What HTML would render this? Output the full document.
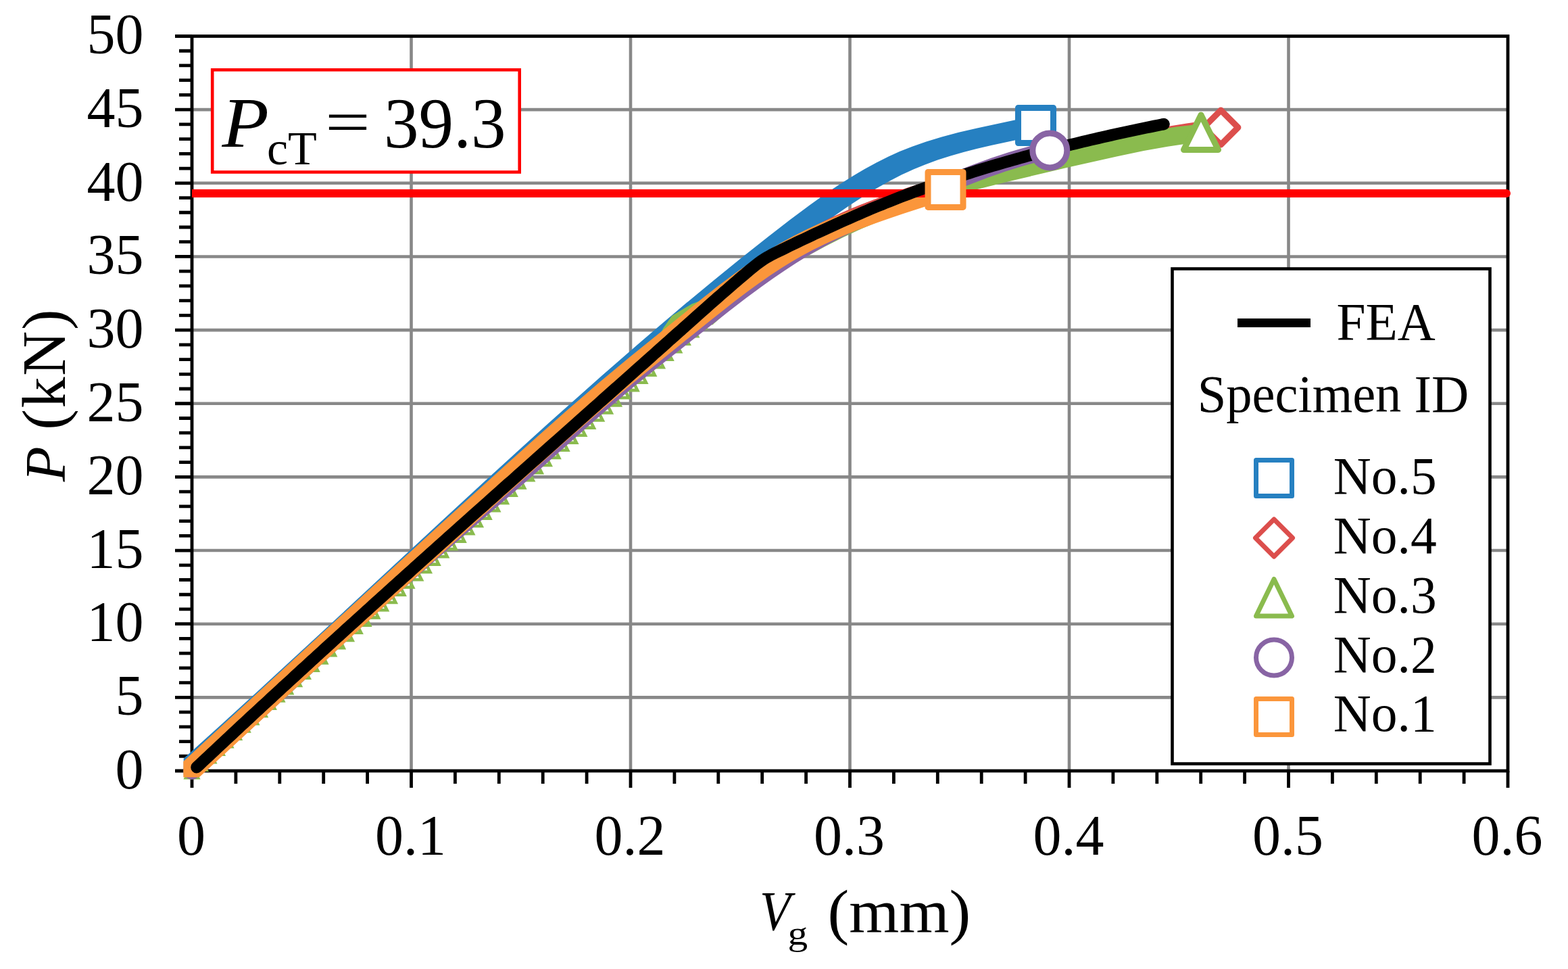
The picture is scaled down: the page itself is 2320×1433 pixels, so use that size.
<!DOCTYPE html><html><head><meta charset="utf-8"><title>P-Vg chart</title><style>html,body{margin:0;padding:0;background:#fff;}svg{display:block;}text{font-family:'Liberation Serif','Times New Roman',serif;fill:#000;}</style></head><body>
<svg width="2320" height="1433" viewBox="0 0 2320 1433">
<rect x="0" y="0" width="2320" height="1433" fill="#fff"/>
<path d="M284.0 1031.35H2231.0M284.0 922.70H2231.0M284.0 814.05H2231.0M284.0 705.40H2231.0M284.0 596.75H2231.0M284.0 488.10H2231.0M284.0 379.45H2231.0M284.0 270.80H2231.0M284.0 162.15H2231.0M608.50 53.5V1140.0M933.00 53.5V1140.0M1257.50 53.5V1140.0M1582.00 53.5V1140.0M1906.50 53.5V1140.0" stroke="#888888" stroke-width="4.6" fill="none"/>
<path d="M259 1140.00H284.0M265 1118.27H284.0M265 1096.54H284.0M265 1074.81H284.0M265 1053.08H284.0M259 1031.35H284.0M265 1009.62H284.0M265 987.89H284.0M265 966.16H284.0M265 944.43H284.0M259 922.70H284.0M265 900.97H284.0M265 879.24H284.0M265 857.51H284.0M265 835.78H284.0M259 814.05H284.0M265 792.32H284.0M265 770.59H284.0M265 748.86H284.0M265 727.13H284.0M259 705.40H284.0M265 683.67H284.0M265 661.94H284.0M265 640.21H284.0M265 618.48H284.0M259 596.75H284.0M265 575.02H284.0M265 553.29H284.0M265 531.56H284.0M265 509.83H284.0M259 488.10H284.0M265 466.37H284.0M265 444.64H284.0M265 422.91H284.0M265 401.18H284.0M259 379.45H284.0M265 357.72H284.0M265 335.99H284.0M265 314.26H284.0M265 292.53H284.0M259 270.80H284.0M265 249.07H284.0M265 227.34H284.0M265 205.61H284.0M265 183.88H284.0M259 162.15H284.0M265 140.42H284.0M265 118.69H284.0M265 96.96H284.0M265 75.23H284.0M259 53.50H284.0M284.00 1140.0V1165M348.90 1140.0V1159M413.80 1140.0V1159M478.70 1140.0V1159M543.60 1140.0V1159M608.50 1140.0V1165M673.40 1140.0V1159M738.30 1140.0V1159M803.20 1140.0V1159M868.10 1140.0V1159M933.00 1140.0V1165M997.90 1140.0V1159M1062.80 1140.0V1159M1127.70 1140.0V1159M1192.60 1140.0V1159M1257.50 1140.0V1165M1322.40 1140.0V1159M1387.30 1140.0V1159M1452.20 1140.0V1159M1517.10 1140.0V1159M1582.00 1140.0V1165M1646.90 1140.0V1159M1711.80 1140.0V1159M1776.70 1140.0V1159M1841.60 1140.0V1159M1906.50 1140.0V1165M1971.40 1140.0V1159M2036.30 1140.0V1159M2101.20 1140.0V1159M2166.10 1140.0V1159M2231.00 1140.0V1165" stroke="#000" stroke-width="4.8" fill="none"/>
<rect x="284.0" y="53.50" width="1947.0" height="1086.50" fill="none" stroke="#000" stroke-width="4.8"/>
<path d="M390.2,1014.1 328.2,1070.8 271.7,1121.7 271.7,1146.3 296.3,1146.3 361.6,1087.3 435.4,1019.8 668.7,803.7 746.6,731.8 817.6,667.2 883.1,608.5 926.6,570.1 967.3,534.6 1006.8,500.8 1045.0,468.6 1082.0,438.0 1119.3,407.8 1155.3,379.2 1188.5,353.4 1214.0,334.2 1236.7,317.8 1258.1,303.1 1278.2,290.0 1297.0,278.6 1316.1,267.8 1333.9,258.6 1352.0,250.2 1368.7,243.4 1387.4,236.5 1406.5,230.4 1425.7,224.9 1445.0,219.9 1466.5,214.9 1544.8,198.1 1544.8,173.5 1520.2,173.5 1445.8,189.4 1418.5,195.8 1393.4,202.4 1370.4,209.4 1349.7,216.7 1331.1,224.1 1314.7,231.4 1296.8,240.4 1279.3,250.0 1260.4,261.2 1240.2,274.0 1218.7,288.6 1197.5,303.7 1168.6,325.2 1135.4,350.9 1096.2,381.9 1055.9,414.7 1015.8,447.8 976.1,481.4 933.7,517.9 890.0,556.0 810.8,626.5 722.0,707.2 648.5,775.0 471.1,939.6Z" fill="#2680c1"/>
<path d="M408.4,1013.7 343.4,1073.1 284.0,1126.7 271.4,1139.3 284.0,1151.9 343.4,1098.3 408.4,1038.9 627.0,836.4 709.4,760.6 791.0,686.8 829.9,652.3 866.0,620.7 913.0,580.2 958.9,541.6 1002.1,506.1 1044.3,472.4 1085.4,440.5 1117.4,416.5 1146.8,395.8 1160.1,386.9 1173.5,378.3 1195.8,364.9 1216.9,353.5 1238.4,343.0 1262.2,332.5 1290.0,321.4 1320.1,310.4 1352.3,299.6 1384.8,289.6 1407.9,283.0 1433.0,276.2 1460.1,269.3 1487.3,262.7 1545.8,249.5 1637.8,230.0 1692.6,218.7 1733.9,211.1 1771.5,205.3 1789.3,202.9 1806.4,201.0 1819.0,188.4 1806.4,175.8 1781.4,178.7 1755.7,182.4 1733.9,185.9 1710.3,190.2 1684.8,195.1 1653.4,201.5 1538.0,226.0 1500.9,234.3 1465.9,242.7 1421.4,254.1 1381.0,265.6 1342.8,277.5 1323.9,283.9 1305.0,290.6 1273.3,302.7 1258.5,308.8 1243.9,315.3 1229.4,322.1 1216.9,328.3 1202.8,335.8 1190.6,342.7 1166.8,357.3 1140.2,375.1 1110.9,396.1 1077.4,421.4 1034.9,454.6 991.3,489.7 945.0,527.9 897.8,568.0 856.9,603.4 813.4,641.7 768.7,681.7 719.7,725.9 631.4,807.1Z" fill="#dc4e4c"/>
<path d="M1132.6,384.1 1110.2,399.7 1110.0,399.4 1080.0,421.4 1049.9,439.8 1023.5,449.5 994.2,467.1 981.5,485.0 968.9,510.2 984.5,510.2 976.0,527.3 972.5,520.3 963.3,538.7 959.8,531.7 950.6,550.1 947.0,542.9 937.8,561.4 934.2,554.2 925.0,572.6 921.4,565.3 912.1,583.8 908.5,576.5 899.3,594.9 895.6,587.6 886.4,606.0 882.7,598.6 873.5,617.1 869.8,609.7 860.6,628.1 856.9,620.8 847.6,639.2 844.0,631.8 834.7,650.2 831.1,642.9 821.9,661.3 818.2,654.0 809.0,672.4 805.4,665.1 796.2,683.4 792.5,676.2 783.4,694.6 779.8,687.4 770.6,705.8 767.0,698.6 757.8,717.0 754.3,709.9 745.1,728.2 741.6,721.1 732.4,739.5 728.9,732.4 719.7,750.8 716.2,743.7 707.0,762.1 703.5,755.1 694.4,773.4 690.9,766.4 681.7,784.7 678.2,777.7 669.0,796.1 665.5,789.1 656.4,807.4 652.8,800.4 643.7,818.7 640.2,811.7 631.0,830.1 627.5,823.0 618.3,841.4 614.8,834.3 605.6,852.7 602.0,845.6 592.8,864.0 589.3,856.9 580.1,875.3 576.5,868.1 567.3,886.5 563.7,879.4 554.5,897.8 550.9,890.5 541.7,909.0 538.1,901.7 528.9,920.1 525.3,912.9 516.1,931.3 512.5,924.1 503.3,942.5 499.6,935.2 490.4,953.6 486.8,946.4 477.6,964.8 474.0,957.5 464.8,975.9 461.2,968.7 452.0,987.1 448.4,979.9 439.2,998.3 435.6,991.1 426.4,1009.4 422.8,1002.3 413.6,1020.6 410.0,1013.5 400.9,1031.8 397.3,1024.7 388.1,1043.1 384.6,1036.0 375.4,1054.3 371.9,1047.3 362.7,1065.6 359.2,1058.6 350.1,1076.9 346.6,1069.9 337.5,1088.2 334.0,1081.3 324.9,1099.6 321.4,1092.7 312.3,1111.0 308.9,1104.2 299.8,1122.4 296.4,1115.7 287.3,1133.9 284.0,1127.2 271.4,1152.4 296.6,1152.4 290.8,1140.9 309.0,1140.9 303.3,1129.4 321.5,1129.4 315.8,1117.9 334.0,1117.9 328.3,1106.5 346.6,1106.5 340.9,1095.1 359.2,1095.1 353.5,1083.8 371.8,1083.8 366.2,1072.5 384.5,1072.5 378.8,1061.2 397.2,1061.2 391.6,1049.9 409.9,1049.9 404.3,1038.7 422.6,1038.7 417.0,1027.5 435.4,1027.5 429.8,1016.3 448.2,1016.3 442.6,1005.1 461.0,1005.1 455.4,993.9 473.8,993.9 468.2,982.7 486.6,982.7 481.0,971.6 499.4,971.6 493.8,960.4 512.2,960.4 506.7,949.3 525.1,949.3 519.5,938.1 537.9,938.1 532.3,926.9 550.7,926.9 545.1,915.7 563.5,915.7 557.9,904.6 576.3,904.6 570.7,893.3 589.1,893.3 583.5,882.1 601.9,882.1 596.2,870.8 614.6,870.8 609.0,859.5 627.4,859.5 621.7,848.2 640.1,848.2 634.4,836.9 652.8,836.9 647.1,825.6 665.4,825.6 659.8,814.3 678.1,814.3 672.5,802.9 690.8,802.9 685.1,791.6 703.5,791.6 697.8,780.3 716.1,780.3 710.5,768.9 728.8,768.9 723.1,757.6 741.5,757.6 735.8,746.3 754.2,746.3 748.5,735.1 766.9,735.1 761.3,723.8 779.6,723.8 774.0,712.6 792.4,712.6 786.8,701.4 805.1,701.4 799.6,690.3 818.0,690.3 812.4,679.2 830.8,679.2 825.3,668.1 843.7,668.1 838.1,657.0 856.6,657.0 851.0,646.0 869.5,646.0 863.9,634.9 882.4,634.9 876.8,623.8 895.3,623.8 889.8,612.8 908.2,612.8 902.6,601.7 921.1,601.7 915.5,590.5 934.0,590.5 928.4,579.4 946.8,579.4 941.2,568.1 959.6,568.1 954.0,556.9 972.4,556.9 966.7,545.5 985.1,545.5 979.4,534.1 997.8,534.1 992.0,522.6 1010.4,522.6 1004.6,511.1 1022.9,511.1 1017.1,499.4 1035.4,499.4 1029.5,487.7 1047.7,487.7 1044.0,480.3 1055.5,480.3 1055.0,479.3 1055.5,479.3 1073.5,463.5 1090.5,449.5 1106.2,437.2 1122.3,425.3 1136.9,414.9 1151.9,404.9 1168.7,394.1 1194.5,378.8 1220.8,364.4 1247.5,350.9 1276.6,337.5 1306.1,325.2 1336.0,313.8 1366.2,303.3 1398.6,293.2 1417.9,287.6 1439.1,281.8 1487.5,269.5 1577.0,248.3 1653.1,231.2 1692.3,223.1 1727.7,216.7 1759.4,212.1 1775.3,210.2 1789.6,208.8 1777.0,183.6 1758.7,185.4 1740.8,187.6 1715.1,191.5 1687.6,196.4 1658.2,202.2 1621.0,210.3 1560.6,224.0 1488.5,241.0 1447.8,251.0 1413.0,260.2 1389.9,266.8 1368.8,273.2 1347.9,280.0 1329.0,286.5 1310.3,293.4 1291.6,300.7 1273.2,308.4 1254.9,316.4 1236.8,324.8 1218.8,333.7 1201.1,343.0 1183.6,352.6 1166.4,362.7 1149.3,373.2ZM988.6,515.8 985.8,510.2 991.4,510.2ZM1000.0,501.9 1006.8,492.3 1007.2,492.1 1001.1,504.2ZM1012.0,489.2 1016.7,486.4 1013.6,492.5ZM1026.0,480.8 1026.0,480.8 1026.0,480.8ZM341.4,1090.5 346.6,1080.2 347.5,1082.0 346.6,1083.8 348.4,1083.8 351.8,1090.5ZM448.4,990.2 449.4,992.2 448.6,993.9 450.2,993.9 453.5,1000.5 443.2,1000.5ZM500.7,947.6 499.9,949.3 501.5,949.3 504.8,955.8 494.5,955.8 499.6,945.5ZM527.2,926.9 530.4,933.5 520.1,933.5 525.3,923.2 526.3,925.3 525.5,926.9ZM538.3,915.7 540.0,915.7 543.3,922.3 532.9,922.3 538.1,912.0 539.1,914.1ZM517.6,944.7 507.3,944.7 512.5,934.4 513.5,936.5 512.7,938.1 514.3,938.1ZM474.2,971.6 475.9,971.6 479.1,978.1 468.8,978.1 474.0,967.8 475.0,969.9ZM492.0,967.0 481.6,967.0 486.8,956.7 487.9,958.8 487.0,960.4 488.7,960.4ZM466.3,989.3 456.0,989.3 461.2,979.0 462.2,981.1 461.4,982.7 463.0,982.7ZM398.3,1037.0 397.4,1038.7 399.1,1038.7 402.5,1045.3 392.1,1045.3 397.3,1035.0ZM423.0,1016.3 424.7,1016.3 428.0,1022.9 417.6,1022.9 422.8,1012.5 423.8,1014.6ZM440.7,1011.7 430.4,1011.7 435.6,1001.4 436.6,1003.4 435.8,1005.1 437.4,1005.1ZM415.2,1034.1 404.9,1034.1 410.0,1023.8 411.0,1025.8 410.2,1027.5 411.9,1027.5ZM372.0,1061.2 373.7,1061.2 377.0,1067.9 366.7,1067.9 371.9,1057.5 372.8,1059.4ZM389.7,1056.6 379.4,1056.6 384.6,1046.3 385.6,1048.2 384.7,1049.9 386.4,1049.9ZM364.4,1079.2 354.1,1079.2 359.2,1068.9 360.2,1070.7 359.3,1072.5 361.0,1072.5ZM309.7,1116.1 308.8,1117.9 310.6,1117.9 314.1,1124.8 303.8,1124.8 308.9,1114.5ZM335.8,1095.1 339.2,1101.9 328.8,1101.9 334.0,1091.6 334.9,1093.4 334.0,1095.1ZM326.6,1113.3 316.3,1113.3 321.4,1103.0 322.3,1104.7 321.4,1106.5 323.2,1106.5ZM283.8,1140.9 285.7,1140.9 289.2,1147.8 278.8,1147.8 284.0,1137.5 284.8,1139.0ZM301.6,1136.3 291.3,1136.3 296.4,1126.0 297.2,1127.6 296.3,1129.4 298.1,1129.4ZM696.0,787.0 685.7,787.0 690.9,776.7 691.8,778.5 690.9,780.3 692.6,780.3ZM793.6,688.6 792.8,690.3 794.4,690.3 797.7,696.8 787.4,696.8 792.5,686.5ZM807.3,679.2 810.5,685.7 800.2,685.7 805.4,675.4 806.4,677.5 805.6,679.2ZM742.5,733.3 741.7,735.1 743.4,735.1 746.7,741.7 736.4,741.7 741.6,731.4ZM767.2,712.6 768.9,712.6 772.2,719.2 761.9,719.2 767.0,708.9 768.0,710.9ZM784.9,708.0 774.6,708.0 779.8,697.7 780.8,699.7 779.9,701.4 781.6,701.4ZM759.4,730.5 749.1,730.5 754.3,720.1 755.3,722.1 754.4,723.8 756.1,723.8ZM716.3,757.6 718.0,757.6 721.4,764.3 711.0,764.3 716.2,754.0 717.1,755.9ZM734.0,753.0 723.7,753.0 728.9,742.7 729.8,744.6 729.0,746.3 730.7,746.3ZM708.7,775.7 698.4,775.7 703.5,765.3 704.5,767.2 703.6,768.9 705.3,768.9ZM602.0,855.9 603.0,857.9 602.2,859.5 603.8,859.5 607.2,866.2 596.9,866.2ZM653.8,812.5 652.9,814.3 654.6,814.3 658.0,821.0 647.7,821.0 652.8,810.7ZM680.0,791.6 683.3,798.3 673.0,798.3 678.2,788.0 679.1,789.9 678.3,791.6ZM670.7,809.7 660.4,809.7 665.5,799.3 666.5,801.2 665.6,802.9 667.3,802.9ZM627.6,836.9 629.3,836.9 632.6,843.6 622.3,843.6 627.5,833.3 628.4,835.2ZM645.3,832.3 635.0,832.3 640.2,822.0 641.1,823.9 640.2,825.6 642.0,825.6ZM619.9,854.9 609.6,854.9 614.8,844.6 615.7,846.6 614.9,848.2 616.6,848.2ZM551.9,902.9 551.1,904.6 552.8,904.6 556.1,911.1 545.8,911.1 550.9,900.8ZM576.7,882.1 578.3,882.1 581.7,888.7 571.3,888.7 576.5,878.4 577.5,880.4ZM594.4,877.5 584.1,877.5 589.3,867.2 590.3,869.2 589.4,870.8 591.1,870.8ZM568.9,900.0 558.6,900.0 563.7,889.6 564.7,891.7 563.9,893.3 565.6,893.3ZM1005.1,506.5 1010.3,496.2 1011.0,497.7 1010.2,499.4 1011.9,499.4 1015.5,506.5ZM1030.0,483.1 1031.4,480.3 1038.9,480.3 1040.3,483.1ZM1027.9,494.8 1017.6,494.8 1022.8,484.5 1023.4,485.9 1022.5,487.7 1024.3,487.7ZM908.5,586.7 909.6,588.9 908.8,590.5 910.4,590.5 913.6,597.1 903.3,597.1ZM960.7,543.9 959.9,545.5 961.6,545.5 964.9,552.3 954.6,552.3 959.8,541.9ZM985.2,522.6 986.9,522.6 990.3,529.5 980.0,529.5 985.2,519.2 986.0,520.9ZM1002.9,518.0 992.6,518.0 997.8,507.7 998.6,509.3 997.7,511.1 999.4,511.1ZM977.7,540.9 967.3,540.9 972.5,530.6 973.4,532.4 972.6,534.1 974.3,534.1ZM934.4,568.1 936.1,568.1 939.4,574.8 929.0,574.8 934.2,564.4 935.2,566.5ZM952.2,563.5 941.9,563.5 947.0,553.2 948.0,555.2 947.2,556.9 948.8,556.9ZM926.5,585.9 916.2,585.9 921.4,575.6 922.4,577.7 921.6,579.4 923.2,579.4ZM858.0,633.3 857.2,634.9 858.8,634.9 862.0,641.4 851.7,641.4 856.9,631.0ZM883.0,612.8 884.6,612.8 887.8,619.2 877.5,619.2 882.7,608.9 883.8,611.1ZM900.8,608.2 890.4,608.2 895.6,597.8 896.7,600.0 895.9,601.7 897.5,601.7ZM874.9,630.3 864.6,630.3 869.8,620.0 870.9,622.2 870.1,623.8 871.7,623.8ZM831.4,657.0 833.0,657.0 836.2,663.5 825.9,663.5 831.1,653.2 832.2,655.4ZM849.1,652.4 838.8,652.4 844.0,642.1 845.1,644.3 844.3,646.0 845.9,646.0ZM823.4,674.6 813.0,674.6 818.2,664.2 819.3,666.4 818.5,668.1 820.1,668.1Z" fill="#8abb4e"/>
<path d="M402.1,1015.1 331.5,1080.2 274.9,1131.0 273.4,1132.9 272.2,1135.1 271.4,1137.5 271.2,1140.0 271.4,1142.5 272.2,1144.9 273.4,1147.1 274.9,1149.1 276.9,1150.7 279.1,1151.8 281.5,1152.6 284.0,1152.8 287.7,1152.3 290.0,1151.3 292.1,1149.9 327.9,1117.9 368.8,1080.7 525.8,935.3 592.9,874.2 651.3,822.6 785.7,705.8 873.7,627.3 902.3,602.2 935.7,573.6 968.3,547.2 1078.3,460.5 1103.6,441.0 1126.7,423.9 1144.6,411.2 1161.2,400.0 1177.9,389.1 1193.2,379.6 1209.4,370.2 1226.9,360.5 1242.9,352.2 1259.0,344.3 1283.4,333.3 1311.0,321.7 1372.5,297.6 1430.1,274.7 1461.9,262.6 1487.1,253.8 1511.9,246.0 1532.6,240.3 1543.5,237.7 1555.8,235.1 1558.2,234.4 1561.4,232.5 1563.2,230.7 1564.6,228.6 1565.5,226.3 1566.1,222.6 1565.9,220.1 1565.1,217.7 1563.9,215.5 1561.4,212.7 1558.2,210.8 1554.6,209.8 1552.0,209.8 1538.5,212.6 1523.7,216.2 1508.3,220.4 1493.0,225.0 1466.4,233.8 1437.1,244.6 1304.9,296.6 1280.9,306.5 1258.9,316.1 1237.9,326.1 1216.6,337.0 1195.6,348.6 1173.9,361.5 1153.6,374.3 1133.7,387.6 1115.7,400.3 1097.0,414.0 1077.8,428.5 1055.7,445.6 942.7,534.9 921.0,552.6 898.1,571.9 863.5,602.2 796.4,662.2 766.4,688.7 638.1,800.1 585.6,846.4 552.0,876.7 515.1,910.5Z" fill="#8864a4"/>
<path d="M549.0,869.6 271.3,1126.0 271.3,1149.4 294.7,1149.4 378.6,1072.2 566.5,898.4 647.5,823.9 745.1,735.0 831.4,657.6 888.5,607.4 914.3,585.3 937.3,566.1 966.7,542.0 1046.1,477.9 1085.2,446.9 1104.3,432.4 1122.1,419.4 1138.5,408.0 1155.2,397.0 1170.5,387.6 1186.1,378.6 1201.9,370.1 1219.8,361.2 1236.2,353.7 1254.5,345.8 1273.1,338.4 1293.7,330.7 1314.4,323.4 1337.2,315.7 1410.7,292.1 1410.7,268.7 1387.3,268.7 1325.2,288.6 1289.1,300.6 1257.2,312.1 1227.4,324.0 1209.1,332.0 1191.0,340.5 1173.2,349.5 1155.7,359.1 1140.2,368.3 1123.4,379.0 1105.2,391.4 1087.4,404.2 1065.0,421.0 1039.8,440.8 930.9,528.7 886.4,565.8 835.0,610.3 797.5,643.5 751.4,684.8 653.6,773.5Z" fill="#fb963b"/>
<path d="M290.0 286.0H2229" stroke="#ff0000" stroke-width="12" stroke-linecap="round" fill="none"/>
<path d="M284.0 286.0H292.0" stroke="#ff0000" stroke-width="12" fill="none"/>
<path d="M291.0 1134.7 L295.4 1130.6 L299.7 1126.5 L304.1 1122.4 L308.5 1118.3 L312.9 1114.2 L317.3 1110.1 L321.6 1106.0 L326.0 1101.9 L330.4 1097.8 L334.8 1093.7 L339.2 1089.6 L343.6 1085.5 L348.0 1081.4 L352.3 1077.3 L356.7 1073.2 L361.1 1069.2 L365.5 1065.1 L369.9 1061.0 L374.3 1056.9 L378.7 1052.9 L383.1 1048.8 L387.5 1044.7 L392.0 1040.6 L396.4 1036.6 L400.8 1032.5 L405.2 1028.4 L409.6 1024.4 L414.0 1020.3 L418.4 1016.2 L422.8 1012.2 L427.3 1008.1 L431.7 1004.1 L436.1 1000.0 L440.5 996.0 L444.9 991.9 L449.4 987.9 L453.8 983.8 L458.2 979.8 L462.6 975.7 L467.1 971.7 L471.5 967.6 L475.9 963.6 L480.4 959.5 L484.8 955.5 L489.2 951.5 L493.7 947.4 L498.1 943.4 L502.6 939.4 L507.0 935.3 L511.4 931.3 L515.9 927.3 L520.3 923.2 L524.8 919.2 L529.2 915.2 L533.7 911.1 L538.1 907.1 L542.6 903.1 L547.0 899.1 L551.5 895.0 L555.9 891.0 L560.4 887.0 L564.8 883.0 L569.3 879.0 L573.7 875.0 L578.2 870.9 L582.7 866.9 L587.1 862.9 L591.6 858.9 L596.0 854.9 L600.5 850.9 L605.0 846.9 L609.4 842.9 L613.9 838.8 L618.4 834.8 L622.8 830.8 L627.3 826.8 L631.8 822.8 L636.2 818.8 L640.7 814.8 L645.2 810.8 L649.6 806.8 L654.1 802.8 L658.6 798.8 L663.0 794.8 L667.5 790.8 L672.0 786.8 L676.5 782.8 L680.9 778.8 L685.4 774.8 L689.9 770.8 L694.4 766.8 L698.8 762.8 L703.3 758.8 L707.8 754.8 L712.3 750.9 L716.8 746.9 L721.2 742.9 L725.7 738.9 L730.2 734.9 L734.7 730.9 L739.1 726.9 L743.6 722.9 L748.1 718.9 L752.6 714.9 L757.1 711.0 L761.6 707.0 L766.0 703.0 L770.5 699.0 L775.0 695.0 L779.5 691.0 L784.0 687.0 L788.5 683.0 L792.9 679.1 L797.4 675.1 L801.9 671.1 L806.4 667.1 L810.9 663.1 L815.4 659.1 L819.9 655.1 L824.3 651.2 L828.8 647.2 L833.3 643.2 L837.8 639.2 L842.3 635.2 L846.8 631.2 L851.3 627.2 L855.7 623.3 L860.2 619.3 L864.7 615.3 L869.2 611.3 L873.7 607.3 L878.2 603.3 L882.7 599.4 L887.1 595.4 L891.6 591.4 L896.1 587.4 L900.6 583.4 L905.1 579.4 L909.6 575.4 L914.0 571.5 L918.5 567.5 L923.0 563.5 L927.5 559.5 L932.0 555.5 L936.5 551.5 L940.9 547.5 L945.4 543.5 L949.9 539.6 L954.4 535.6 L958.9 531.6 L963.4 527.6 L967.8 523.6 L972.3 519.6 L976.8 515.6 L981.3 511.6 L985.8 507.6 L990.2 503.6 L994.7 499.6 L999.2 495.6 L1003.7 491.7 L1008.2 487.7 L1012.6 483.7 L1017.1 479.7 L1021.6 475.7 L1026.1 471.7 L1030.5 467.7 L1035.0 463.7 L1039.5 459.7 L1044.0 455.8 L1048.5 451.8 L1053.0 447.8 L1057.5 443.9 L1062.0 439.9 L1066.5 436.0 L1071.0 432.0 L1075.6 428.1 L1080.1 424.2 L1084.6 420.2 L1089.2 416.3 L1093.7 412.4 L1098.3 408.5 L1102.9 404.7 L1107.4 400.8 L1112.0 397.0 L1116.7 393.2 L1121.3 389.6 L1126.1 386.1 L1131.1 382.8 L1136.1 379.8 L1141.3 376.9 L1146.7 374.2 L1152.0 371.6 L1157.4 369.0 L1162.8 366.3 L1168.2 363.7 L1173.6 361.1 L1179.0 358.5 L1184.4 355.9 L1189.9 353.4 L1195.3 350.8 L1200.7 348.3 L1206.1 345.7 L1211.6 343.2 L1217.0 340.7 L1222.5 338.2 L1227.9 335.7 L1233.4 333.2 L1238.8 330.7 L1244.3 328.3 L1249.8 325.8 L1255.3 323.4 L1260.8 321.0 L1266.3 318.6 L1271.8 316.2 L1277.3 313.8 L1282.8 311.5 L1288.3 309.1 L1293.8 306.8 L1299.4 304.5 L1304.9 302.3 L1310.5 300.0 L1316.1 297.8 L1321.6 295.6 L1327.2 293.4 L1332.8 291.2 L1338.4 289.1 L1344.0 287.0 L1349.6 284.9 L1355.3 282.8 L1360.9 280.8 L1366.5 278.7 L1372.2 276.7 L1377.8 274.7 L1383.5 272.7 L1389.2 270.8 L1394.8 268.8 L1400.5 266.9 L1406.2 265.0 L1411.9 263.1 L1417.6 261.3 L1423.3 259.4 L1429.0 257.6 L1434.7 255.8 L1440.5 254.0 L1446.2 252.2 L1451.9 250.4 L1457.6 248.7 L1463.4 246.9 L1469.1 245.2 L1474.9 243.5 L1480.6 241.8 L1486.4 240.1 L1492.2 238.5 L1497.9 236.8 L1503.7 235.2 L1509.5 233.6 L1515.2 232.0 L1521.0 230.4 L1526.8 228.8 L1532.6 227.2 L1538.4 225.7 L1544.2 224.2 L1550.0 222.6 L1555.8 221.1 L1561.6 219.6 L1567.4 218.2 L1573.3 216.7 L1579.1 215.2 L1584.9 213.8 L1590.7 212.4 L1596.6 211.0 L1602.4 209.6 L1608.2 208.2 L1614.1 206.8 L1619.9 205.4 L1625.7 204.1 L1631.6 202.8 L1637.4 201.4 L1643.3 200.1 L1649.2 198.8 L1655.0 197.5 L1660.9 196.2 L1666.7 195.0 L1672.6 193.7 L1678.5 192.5 L1684.3 191.2 L1690.2 190.0 L1696.1 188.8 L1702.0 187.6 L1707.8 186.4 L1713.7 185.2 L1719.6 184.0 L1722.0 183.6" stroke="#000" stroke-width="17.5" fill="none" stroke-linejoin="round" stroke-linecap="round"/>
<rect x="1506.5" y="159.5" width="52.0" height="52.0" fill="#fff" stroke="#2680c1" stroke-width="9" stroke-linejoin="round"/>
<path d="M1806.4 163.0L1831.9 188.5L1806.4 214.0L1780.9 188.5Z" fill="#fff" stroke="#dc4e4c" stroke-width="9" stroke-linejoin="round"/>
<path d="M1777.0 170.0L1802.5 221.5L1751.5 221.5Z" fill="#fff" stroke="#8abb4e" stroke-width="9" stroke-linejoin="round"/>
<circle cx="1553.3" cy="222.4" r="25.5" fill="#fff" stroke="#8864a4" stroke-width="9"/>
<rect x="1373.0" y="254.4" width="52.0" height="52.0" fill="#fff" stroke="#fb963b" stroke-width="9" stroke-linejoin="round"/>
<rect x="314.2" y="103.3" width="454.5" height="151.2" fill="#fff" stroke="#ff0000" stroke-width="4.6"/>
<text x="328.4" y="217" font-size="105" font-style="italic" textLength="69.4" lengthAdjust="spacingAndGlyphs">P</text>
<text x="395" y="243" font-size="70">cT</text>
<text transform="translate(481 209.9) scale(1.13 0.84)" font-size="105">=</text>
<text x="568" y="217.5" font-size="105" textLength="180.6" lengthAdjust="spacingAndGlyphs">39.3</text>
<rect x="1734.5" y="397.5" width="470" height="732" fill="#fff" stroke="#000" stroke-width="4.6"/>
<rect x="1831" y="471" width="108" height="13" fill="#000"/>
<text x="1977.4" y="502" font-size="77.5">FEA</text>
<text x="1771.7" y="609" font-size="77.5" textLength="401.5" lengthAdjust="spacingAndGlyphs">Specimen ID</text>
<rect x="1858.5" y="680.5" width="53.0" height="53.0" fill="#fff" stroke="#2680c1" stroke-width="7" stroke-linejoin="round"/>
<path d="M1885.0 768.0L1912.5 795.5L1885.0 823.0L1857.5 795.5Z" fill="#fff" stroke="#dc4e4c" stroke-width="7" stroke-linejoin="round"/>
<path d="M1885.0 856.5L1911.5 911.0L1858.5 911.0Z" fill="#fff" stroke="#8abb4e" stroke-width="7" stroke-linejoin="round"/>
<circle cx="1885.0" cy="972.5" r="26.5" fill="#fff" stroke="#8864a4" stroke-width="7"/>
<rect x="1858.5" y="1033.5" width="53.0" height="53.0" fill="#fff" stroke="#fb963b" stroke-width="7" stroke-linejoin="round"/>
<text x="1972.8" y="730" font-size="77.5">No.5</text>
<text x="1972.8" y="818" font-size="77.5">No.4</text>
<text x="1972.8" y="906" font-size="77.5">No.3</text>
<text x="1972.8" y="994" font-size="77.5">No.2</text>
<text x="1972.8" y="1081" font-size="77.5">No.1</text>
<text x="212.5" y="1165.7" font-size="84" text-anchor="end">0</text>
<text x="212.5" y="1057.0" font-size="84" text-anchor="end">5</text>
<text x="212.5" y="948.4" font-size="84" text-anchor="end">10</text>
<text x="212.5" y="839.8" font-size="84" text-anchor="end">15</text>
<text x="212.5" y="731.1" font-size="84" text-anchor="end">20</text>
<text x="212.5" y="622.5" font-size="84" text-anchor="end">25</text>
<text x="212.5" y="513.8" font-size="84" text-anchor="end">30</text>
<text x="212.5" y="405.1" font-size="84" text-anchor="end">35</text>
<text x="212.5" y="296.5" font-size="84" text-anchor="end">40</text>
<text x="212.5" y="187.8" font-size="84" text-anchor="end">45</text>
<text x="212.5" y="79.2" font-size="84" text-anchor="end">50</text>
<text x="283.0" y="1264" font-size="84" text-anchor="middle">0</text>
<text x="607.5" y="1264" font-size="84" text-anchor="middle">0.1</text>
<text x="932.0" y="1264" font-size="84" text-anchor="middle">0.2</text>
<text x="1256.5" y="1264" font-size="84" text-anchor="middle">0.3</text>
<text x="1581.0" y="1264" font-size="84" text-anchor="middle">0.4</text>
<text x="1905.5" y="1264" font-size="84" text-anchor="middle">0.5</text>
<text x="2230.0" y="1264" font-size="84" text-anchor="middle">0.6</text>
<text transform="translate(95.7 712.3) rotate(-90)" font-size="92"><tspan font-style="italic" font-size="85">P</tspan><tspan letter-spacing="1.6"> (kN)</tspan></text>
<text x="1124.1" y="1375.3" font-size="83.1" font-style="italic" textLength="45.7" lengthAdjust="spacingAndGlyphs">V</text>
<text x="1165.4" y="1397" font-size="51.2" textLength="29.7" lengthAdjust="spacingAndGlyphs">g</text>
<text x="1224.6" y="1378.5" font-size="90" textLength="211.7" lengthAdjust="spacingAndGlyphs">(mm)</text>
</svg></body></html>
